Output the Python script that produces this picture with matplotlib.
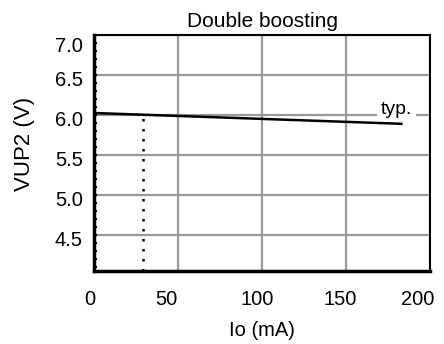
import matplotlib
matplotlib.use("Agg")
import matplotlib.pyplot as plt
from matplotlib.transforms import ScaledTranslation

plt.rcParams['font.family'] = ['Liberation Sans', 'DejaVu Sans']

# Data
io_ma = [0, 183]
vup2 = [6.025, 5.89]
marker_x = [29, 29]
marker_y = [4.05, 5.99]
x_ticks = [0, 50, 100, 150, 200]
y_ticks = [4.5, 5.0, 5.5, 6.0, 6.5, 7.0]
y_tick_labels = ["4.5", "5.0", "5.5", "6.0", "6.5", "7.0"]

fig = plt.figure(figsize=(4.44, 3.44), dpi=100)
ax = fig.add_axes([94/444, 1-271/344, (430-94)/444, (271-35)/344])

ax.set_xlim(0, 200)
ax.set_ylim(4.05, 7.0)
ax.set_xticks(x_ticks)
ax.set_yticks(y_ticks)
ax.set_yticklabels(y_tick_labels)
ax.grid(True, color='#999999', linewidth=1.6)
ax.set_axisbelow(True)

ax.plot(io_ma, vup2, color='black', linewidth=1.8, zorder=3)
ax.plot(marker_x, marker_y, color='black', linewidth=1.8, linestyle=(0, (1, 3)), zorder=3)

ax.text(180, 6.075, "typ.", fontsize=14, ha='center', va='center',
        bbox=dict(facecolor='white', edgecolor='none', pad=2.5), zorder=4)

for s in ax.spines.values():
    s.set_color('black')
    s.set_linewidth(1.5)
ax.spines['left'].set_linewidth(2.5)
ax.spines['bottom'].set_linewidth(2.5)

ax.tick_params(axis='x', which='major', length=0, labelsize=14.5, pad=14)
ax.tick_params(axis='y', which='major', labelsize=14.5, pad=8)
ax.minorticks_on()
ax.tick_params(axis='x', which='minor', length=0)
ax.tick_params(axis='y', which='minor', direction='in', length=2, width=1.5, color='black')
ax.tick_params(axis='y', which='major', direction='in', length=2, width=1.5, color='black')

fig.canvas.draw()
for lbl in ax.get_yticklabels():
    dy = 10 if lbl.get_text() == "7.0" else 4
    lbl.set_transform(lbl.get_transform() + ScaledTranslation(0, -dy/100, fig.dpi_scale_trans))
x_shift = {"0": -4, "50": -12, "100": -5, "150": -6, "200": -12}
for lbl in ax.get_xticklabels():
    dx = x_shift.get(lbl.get_text(), 0)
    lbl.set_transform(lbl.get_transform() + ScaledTranslation(dx/100, 0, fig.dpi_scale_trans))

ax.set_title("Double boosting", fontsize=15, pad=6)
ax.set_xlabel("Io (mA)", fontsize=14.5, labelpad=8)
ax.set_ylabel("VUP2 (V)", fontsize=16)
ax.yaxis.set_label_coords(-0.175, 0.538)

fig.savefig("out.png", dpi=100)
